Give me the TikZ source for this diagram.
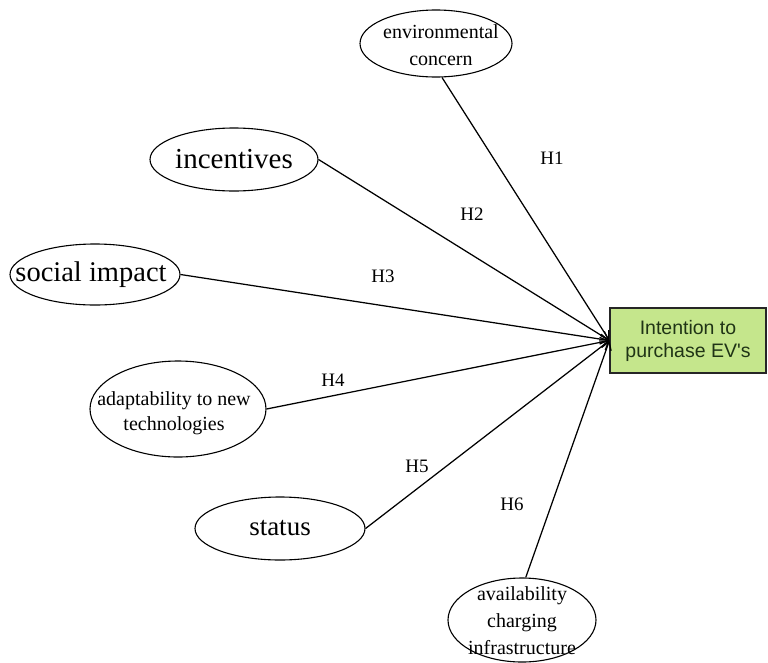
\documentclass[tikz,border=0pt]{standalone}
\usepackage{fontspec}
\setmainfont{Liberation Serif}
\newfontfamily\boxfont{Liberation Sans}
\usetikzlibrary{arrows.meta,shapes.geometric}
\definecolor{boxfill}{RGB}{197,230,140}
\definecolor{boxtext}{RGB}{32,52,22}
\tikzset{
  % outline of a construct; its text is set by a separate node on top
  factor/.style n args={2}{draw, ellipse, line width=1.1pt, inner sep=0pt,
    minimum width=#1, minimum height=#2},
  ftext/.style n args={2}{inner sep=0pt, align=center,
    font=\fontsize{#1}{#2}\selectfont},
  hyp/.style={-{Straight Barb[length=8pt,width=10pt]}, line width=1.25pt},
  hlabel/.style={font=\fontsize{19}{21}\selectfont},
  target/.style={draw=black!85, line width=1.1pt, fill=boxfill, text=boxtext,
    align=center, minimum width=156pt, minimum height=65pt, inner sep=0pt,
    font=\boxfont\fontsize{19.5}{23}\selectfont}
}
\begin{document}
\begin{tikzpicture}[x=1pt,y=-1pt]
  \useasboundingbox (0,0) rectangle (768,662);

  % outcome
  \node[target] (ev) at (688,340.5) {Intention to\\purchase EV's};

  % antecedents
  \node[factor={152pt}{67pt}] (env) at (436,43.5) {};
  \node[ftext={20}{27}] (envt) at ([xshift=5pt,yshift=-2pt]env.center)
    {environmental\\concern};

  \node[factor={168pt}{63pt}] (inc) at (234,159.5) {};
  \node[ftext={29}{32}] (inct) at (inc.center) {incentives};

  \node[factor={170pt}{61pt}] (soc) at (95,274.5) {};
  \node[ftext={28.5}{32}] (soct) at ([xshift=-4pt]soc.center) {social impact};

  \node[factor={176pt}{96pt}] (adp) at (178,409) {};
  \node[ftext={20}{25}] (adpt) at ([xshift=-4pt,yshift=-4pt]adp.center)
    {adaptability to new\\technologies};

  \node[factor={170pt}{63pt}] (sta) at (280,528.5) {};
  \node[ftext={27}{30}] (stat) at (sta.center) {status};

  \node[factor={148pt}{84pt}] (avl) at (522,620) {};
  \node[ftext={20}{27}] (avlt) at ([yshift=-1pt]avl.center)
    {availability\\charging\\infrastructure};

  % hypothesised paths
  \draw[hyp] (env.-80) -- (ev.west);
  \draw[hyp] (inc.east) -- (ev.west);
  \draw[hyp] (soc.east) -- (ev.west);
  \draw[hyp] (adp.east) -- (ev.west);
  \draw[hyp] (sta.east) -- (ev.west);
  \draw[hyp] (avl.85) -- (ev.west);

  % path labels
  \node[hlabel] (h1) at (552,158) {H1};
  \node[hlabel] (h2) at (472,214) {H2};
  \node[hlabel] (h3) at (383,276) {H3};
  \node[hlabel] (h4) at (333,380) {H4};
  \node[hlabel] (h5) at (417,466) {H5};
  \node[hlabel] (h6) at (512,504) {H6};
\end{tikzpicture}
\end{document}
